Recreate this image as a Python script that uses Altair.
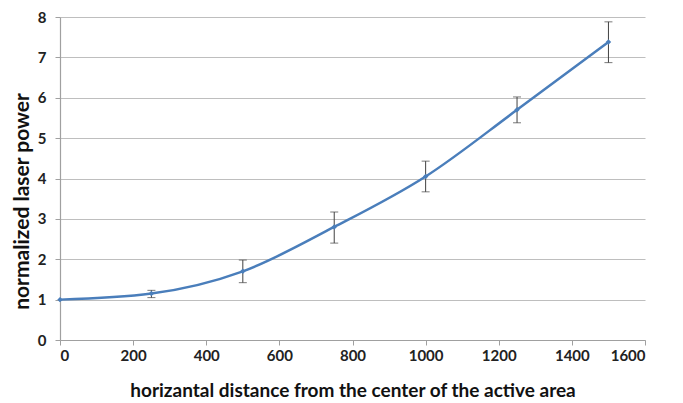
import altair as alt
import pandas as pd

distance = [0, 250, 500, 750, 1000, 1250, 1500]
power = [1.0, 1.15, 1.70, 2.80, 4.05, 5.70, 7.38]
err_low = [1.0, 1.05, 1.42, 2.40, 3.67, 5.38, 6.87]
err_high = [1.0, 1.23, 1.98, 3.17, 4.43, 6.02, 7.88]

df = pd.DataFrame({"d": distance, "p": power, "lo": err_low, "hi": err_high})
eb = df.iloc[1:]

FONT = "Lato"
blue = "#4A7EBB"
dark = "#404040"

x = alt.X("d:Q", scale=alt.Scale(domain=[0, 1600], nice=False),
          axis=alt.Axis(values=list(range(0, 1601, 200)), grid=False, format="d",
                        title="horizantal distance from the center of the active area",
                        titlePadding=18))
y = alt.Y("p:Q", scale=alt.Scale(domain=[0, 8], nice=False),
          axis=alt.Axis(values=list(range(0, 9)), grid=True, format="d",
                        title="normalized laser power", titlePadding=5,
                        titleFontSize=21, titleY=184))

line = alt.Chart(df).mark_line(color=blue, strokeWidth=2.5, interpolate="monotone").encode(x=x, y=y)
pts = alt.Chart(df).mark_point(shape="diamond", filled=True, color=blue, size=30, opacity=1).encode(x="d:Q", y="p:Q")
rule = alt.Chart(eb).mark_rule(color=dark, strokeWidth=1).encode(x="d:Q", y="lo:Q", y2="hi:Q")
cap_lo = alt.Chart(eb).mark_tick(color=dark, orient="horizontal", size=8, thickness=1).encode(x="d:Q", y="lo:Q")
cap_hi = alt.Chart(eb).mark_tick(color=dark, orient="horizontal", size=8, thickness=1).encode(x="d:Q", y="hi:Q")

chart = alt.layer(line, rule, cap_lo, cap_hi, pts).properties(
    width=585, height=323,
    autosize=alt.AutoSizeParams(type="none"),
    padding={"left": 52, "top": 9, "right": 30, "bottom": 62},
    background="white",
).configure_view(stroke=None).configure_axis(
    labelFont=FONT, titleFont=FONT, labelFontSize=15, titleFontSize=19,
    labelFontWeight="bold", titleFontWeight="bold",
    labelColor="#222222", titleColor="#111111",
    domainColor="#A0A0A0", tickColor="#A0A0A0", gridColor="#BEBEBE",
    tickSize=5, domainWidth=1.2, gridWidth=1.2,
).configure_axisX(labelPadding=3).configure_axisY(labelPadding=9)

chart.save("out.html", embed_options={"renderer": "svg", "actions": False})
